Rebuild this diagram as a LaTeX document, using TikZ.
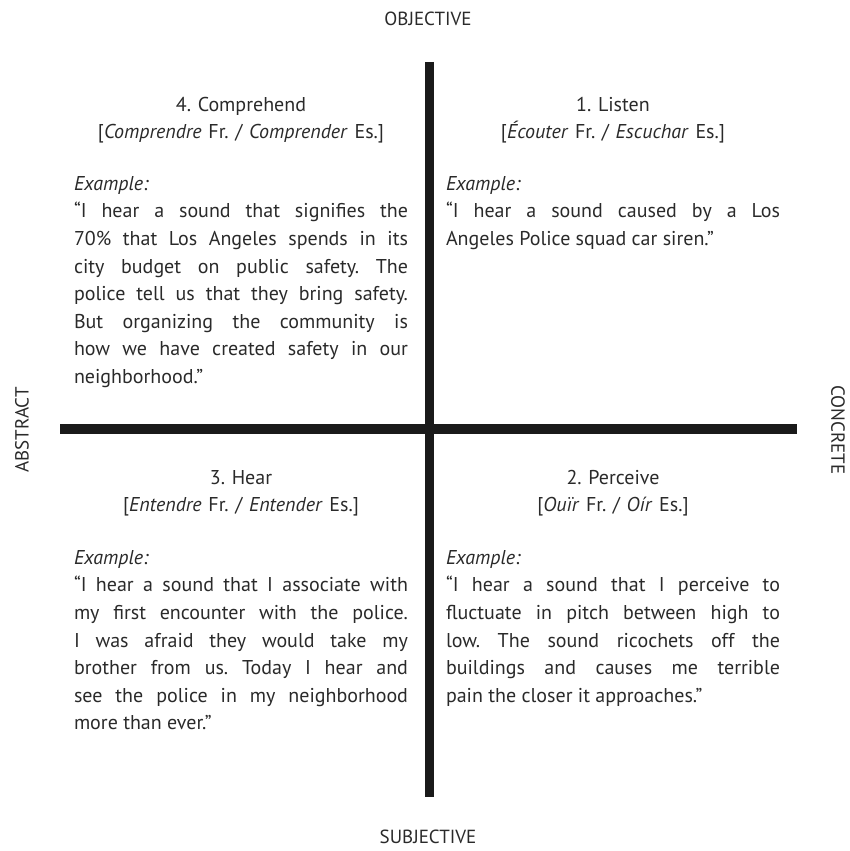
\documentclass[tikz,border=0pt]{standalone}
\usepackage{fontspec}
\setmainfont{PT Sans}
\frenchspacing

\definecolor{inkgray}{HTML}{2A2A2A}
\definecolor{axisblack}{HTML}{1A1A1A}

\tikzset{
  axislabel/.style={font=\fontsize{19}{23}\selectfont, text=inkgray, inner sep=0},
  headtext/.style={font=\fontsize{20}{27}\selectfont, text=inkgray, align=center,
    text width=334pt, inner sep=0, anchor=north},
  bodytext/.style={font=\fontsize{20}{27.6}\selectfont, text=inkgray, align=justify,
    text width=334pt, inner sep=0, anchor=north},
}

\begin{document}
\begin{tikzpicture}[x=1pt, y=-1pt]

	\useasboundingbox (0,0) rectangle (850,851);

	%% the cross
	\coordinate (top) at (429,62);
	\coordinate (bottom) at (429,797);
	\coordinate (left) at (60,429);
	\coordinate (right) at (797,429);
	\draw[line width=9pt, axisblack] (top) -- (bottom);
	\draw[line width=10pt, axisblack] (left) -- (right);

	%% axis labels
	\node[axislabel] (objective) at (428,19) {OBJECTIVE};
	\node[axislabel] (subjective) at (428,837) {SUBJECTIVE};
	\node[axislabel, rotate=90] (abstract) at (22,430) {ABSTRACT};
	\node[axislabel, rotate=-90] (concrete) at (838,430) {CONCRETE};

	%% 4. comprehend
	\node[headtext] (comprehend) at (241,97) {4. Comprehend\\
		{[}\textit{Comprendre} Fr. / \textit{Comprender} Es.]};
	\node[bodytext] (comprehendex) at (241,176) {\textit{Example:}\\
		“I hear a sound that signifies the\linebreak
		70\% that Los Angeles spends in its\linebreak
		city budget on public safety. The\linebreak
		police tell us that they bring safety.\linebreak
		But organizing the community is\linebreak
		how we have created safety in our\linebreak
		neighborhood.”};

	%% 1. listen
	\node[headtext] (listen) at (613,97) {1. Listen\\
		{[}\textit{Écouter} Fr. / \textit{Escuchar} Es.]};
	\node[bodytext] (listenex) at (613,176) {\textit{Example:}\\
		“I hear a sound caused by a Los\linebreak
		Angeles Police squad car siren.”};

	%% 3. hear
	\node[headtext] (hear) at (241,470) {3. Hear\\
		{[}\textit{Entendre} Fr. / \textit{Entender} Es.]};
	\node[bodytext] (hearex) at (241,550) {\textit{Example:}\\
		“I hear a sound that I associate with\linebreak
		my first encounter with the police.\linebreak
		I was afraid they would take my\linebreak
		brother from us. Today I hear and\linebreak
		see the police in my neighborhood\linebreak
		more than ever.”};

	%% 2. perceive
	\node[headtext] (perceive) at (613,470) {2. Perceive\\
		{[}\textit{Ouïr} Fr. / \textit{Oír} Es.]};
	\node[bodytext] (perceiveex) at (613,550) {\textit{Example:}\\
		“I hear a sound that I perceive to\linebreak
		fluctuate in pitch between high to\linebreak
		low. The sound ricochets off the\linebreak
		buildings and causes me terrible\linebreak
		pain the closer it approaches.”};

\end{tikzpicture}
\end{document}
